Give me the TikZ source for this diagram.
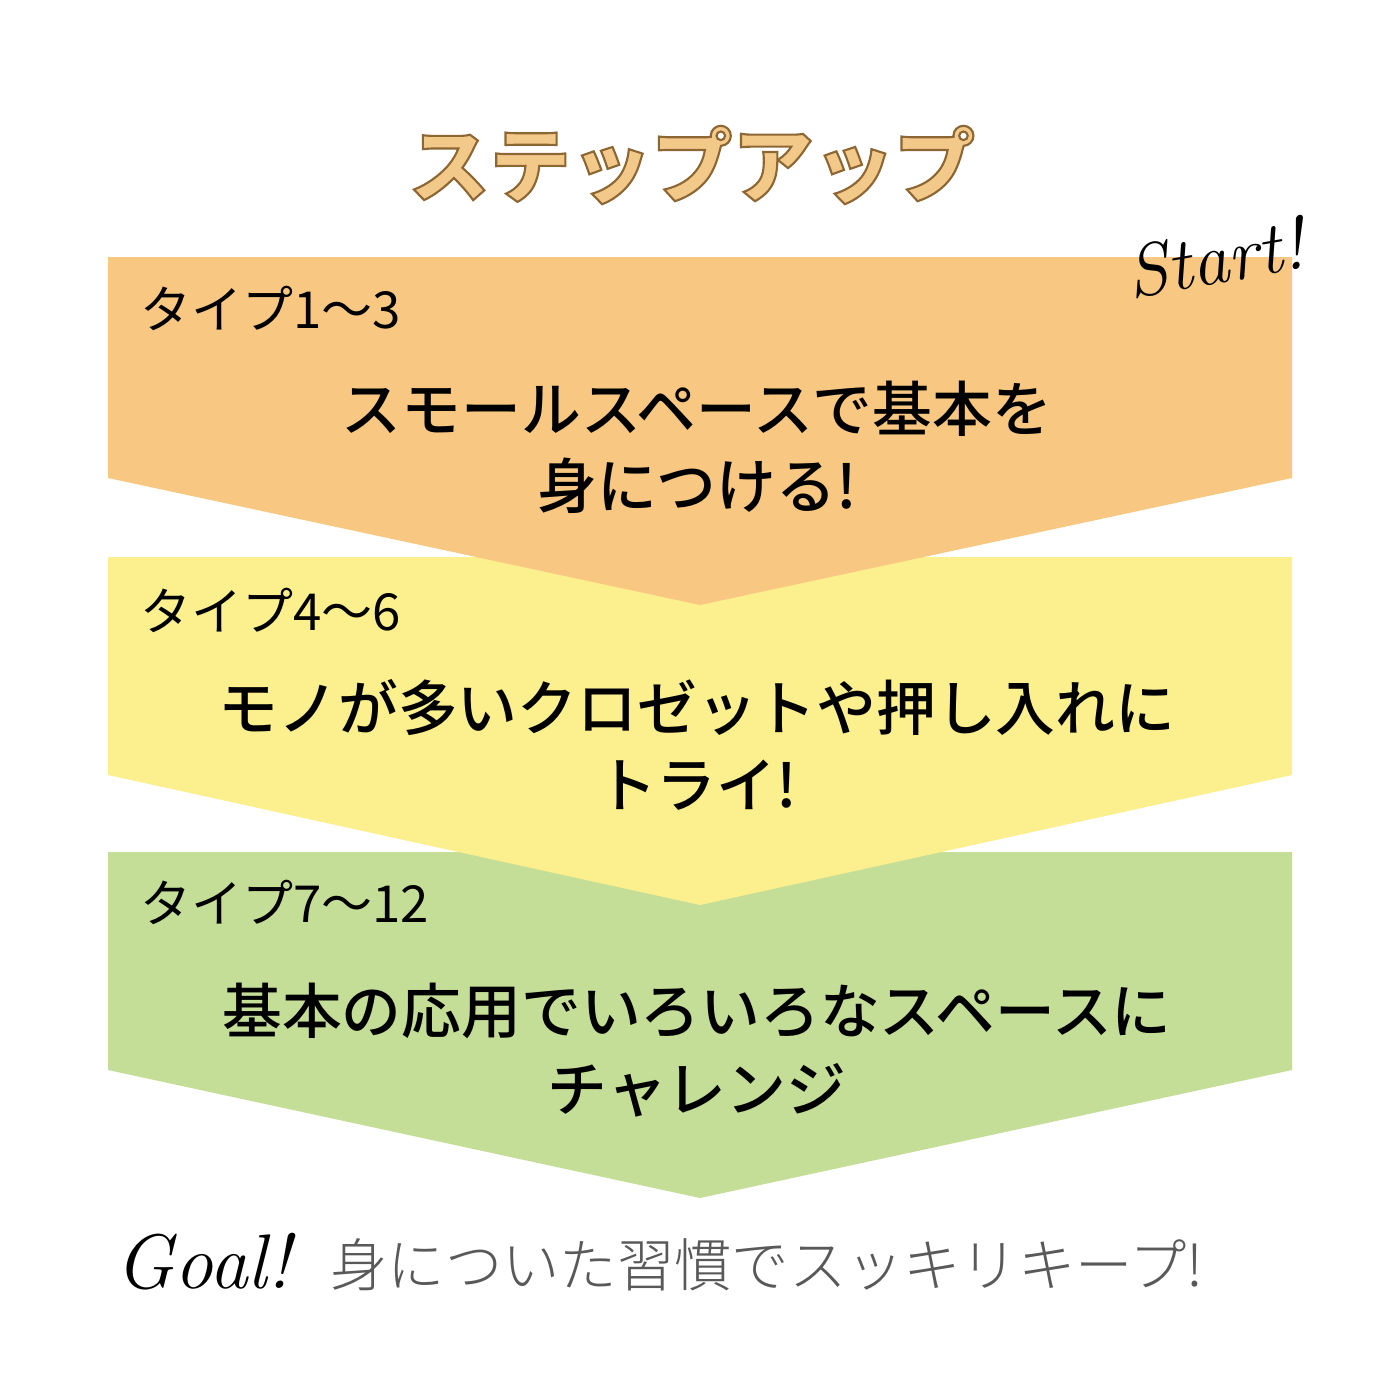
\documentclass[tikz,border=0pt]{standalone}
\usepackage{fontspec}
\newfontfamily\jp{Noto Sans CJK JP}
\newfontfamily\jpm{Noto Sans CJK JP}[UprightFont={* Medium}]
\newfontfamily\jpl{Noto Sans CJK JP}[UprightFont={* Light}]
\definecolor{cor}{HTML}{F8C882}
\definecolor{cye}{HTML}{FBEF8E}
\definecolor{cgr}{HTML}{C5DE97}
\definecolor{ttl}{HTML}{F3C98A}
\begin{document}
\begin{tikzpicture}[x=0.01cm,y=-0.01cm,
 lbl/.style={anchor=west,font=\jp\fontsize{14.5}{16}\selectfont},
 main/.style={align=center,font=\jpm\fontsize{17}{22}\selectfont}]
\useasboundingbox[fill=white] (0,0) rectangle (1400,1400);
\fill[cgr] (108,852) -- (1292,852) -- (1292,1070) -- (700,1198) -- (108,1070) -- cycle;
\fill[cye] (108,557) -- (1292,557) -- (1292,775) -- (700,905) -- (108,775) -- cycle;
\fill[cor] (108,257) -- (1292,257) -- (1292,478) -- (700,605) -- (108,478) -- cycle;
\node[font=\jp\bfseries\fontsize{23}{26}\selectfont,text=ttl] (title) at (692,165) {\special{pdf:literal 2 Tr 0.6 w 0.55 0.4 0.2 RG}ステップアップ\special{pdf:literal 0 Tr}};
\node[rotate=10,font=\itshape\fontsize{21}{22}\selectfont] (start) at (1215,258) {Start!};
\node[lbl] (l1) at (128,308) {タイプ1～3};
\node[main] (m1) at (697,447) {スモールスペースで基本を\\身につける!};
\node[lbl] (l2) at (128,610) {タイプ4～6};
\node[main] (m2) at (697,745) {モノが多いクロゼットや押し入れに\\トライ!};
\node[lbl] (l3) at (128,902) {タイプ7～12};
\node[main] (m3) at (697,1050) {基本の応用でいろいろなスペースに\\チャレンジ};
\node[font=\itshape\fontsize{22}{24}\selectfont] (goal) at (203,1262) {Goal!};
\node[anchor=west,text=black!65,font=\jpl\fontsize{16.3}{18}\selectfont] (g) at (318,1265) {身についた習慣でスッキリキープ!};
\end{tikzpicture}
\end{document}
